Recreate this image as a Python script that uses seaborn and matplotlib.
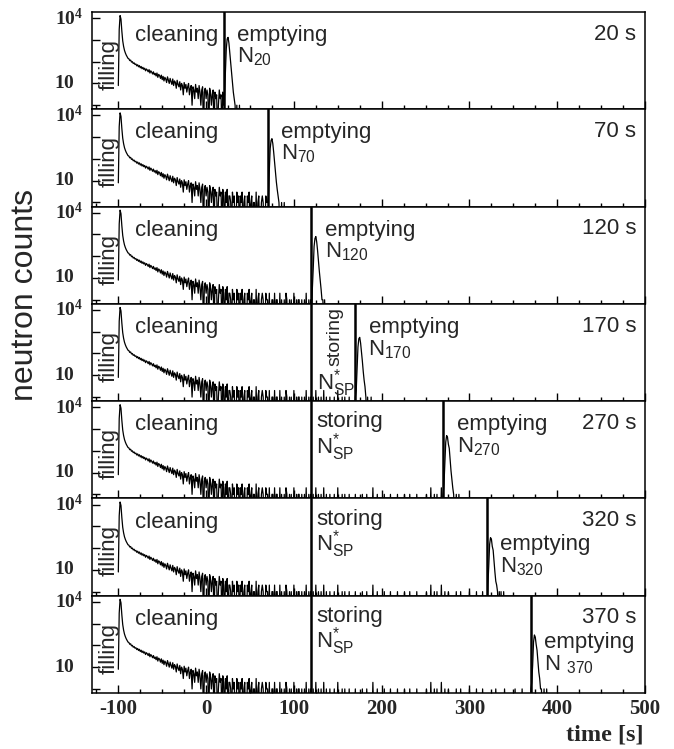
import numpy as np
import pandas as pd
import matplotlib
matplotlib.use("Agg")
import matplotlib.pyplot as plt
import matplotlib.transforms as mtransforms
from matplotlib.ticker import MultipleLocator, NullLocator
import seaborn as sns

# ---------------- data ----------------
storage_times = [20, 70, 120, 170, 270, 320, 370]
panel_labels = ["20 s", "70 s", "120 s", "170 s", "270 s", "320 s", "370 s"]
cleaning_end = 120          # end of cleaning in the long-storage runs
t_start = -100
t_stop = 500

# counts in 1 s bins, t = -100 ... 119  (filling peak + cleaning decay)
cleaning_counts = [
    8, 3000, 13000, 9000, 2500, 900, 500, 330, 250, 200,
    170, 142, 135, 112, 118, 95, 100, 82, 88, 74,
    78, 64, 72, 58, 66, 52, 60, 47, 55, 44,
    50, 38, 46, 41, 34, 43, 30, 38, 33, 27,
    34, 25, 29, 22, 30, 19, 26, 23, 17, 24,
    15, 21, 13, 19, 16, 11, 20, 14, 10, 17,
    12, 9, 16, 8, 13, 11, 6, 14, 9, 7,
    12, 5, 10, 8, 3, 11, 6, 9, 4, 7,
    10, 3, 6, 8, 1, 7, 5, 2, 9, 4,
    6, 2, 8, 4, 1, 5, 7, 0, 4, 6,
    2, 5, 3, 0, 6, 4, 1, 3, 5, 0,
    4, 2, 3, 0, 1, 5, 2, 3, 0, 4,
    2, 0, 3, 1, 4, 0, 2, 2, 1, 0,
    3, 1, 2, 0, 0, 3, 1, 2, 0, 2,
    1, 3, 0, 1, 2, 0, 0, 2, 1, 3,
    0, 1, 2, 0, 1, 1, 0, 3, 0, 1,
    2, 0, 0, 1, 2, 1, 0, 0, 2, 1,
    1, 0, 2, 0, 0, 1, 1, 0, 2, 0,
    1, 1, 0, 0, 2, 0, 1, 0, 0, 1,
    0, 2, 1, 0, 0, 1, 0, 1, 0, 0,
    2, 0, 0, 1, 0, 1, 1, 0, 0, 1,
    0, 0, 1, 0, 2, 0, 0, 1, 0, 1,
]

# sparse background counts while storing (t >= 120)
storing_hit_times = [122, 125, 128, 131, 134, 137, 141, 146, 150, 155, 158, 163,
                     170, 178, 183, 190, 195, 203, 210, 218, 226, 232, 240, 251,
                     256, 260, 263, 268, 272, 276, 285, 290, 300, 308, 315, 330,
                     340, 352, 360]
storing_hit_counts = [1, 2, 1, 1, 2, 1, 1, 1, 2, 1, 1, 1,
                      1, 1, 1, 2, 1, 1, 1, 1, 1, 1, 1, 1,
                      2, 1, 1, 2, 1, 1, 1, 1, 1, 1, 1, 1,
                      1, 1, 1]

# emptying peaks, 1 s bins starting at the emptying time
emptying_20 = [1, 3, 40, 400, 1100, 1300, 700, 250, 90, 30, 10, 4, 2, 1, 0, 1, 0, 0, 1, 0]
emptying_70 = [1, 2, 30, 300, 700, 850, 500, 200, 70, 25, 9, 4, 2, 1, 0, 0, 1, 0, 0, 1]
emptying_120 = [0, 3, 25, 280, 650, 800, 450, 180, 60, 20, 8, 3, 1, 1, 0, 1, 0, 0, 0, 0]
emptying_170 = [1, 2, 20, 200, 480, 550, 300, 120, 45, 15, 6, 3, 1, 0, 1, 0, 0, 0, 1, 0]
emptying_270 = [1, 3, 30, 250, 500, 420, 200, 130, 40, 12, 5, 2, 1, 0, 0, 1, 0, 0, 1, 0]
emptying_320 = [0, 2, 15, 150, 300, 260, 120, 80, 25, 8, 3, 2, 1, 0, 1, 0, 1, 0, 0, 1]
emptying_370 = [1, 2, 12, 140, 300, 240, 110, 60, 20, 6, 3, 1, 1, 0, 0, 1, 0, 0, 1, 0]
emptying_counts = [emptying_20, emptying_70, emptying_120, emptying_170,
                   emptying_270, emptying_320, emptying_370]

# ---------------- style ----------------
sns.set_theme(style="ticks")
plt.rcParams["font.family"] = ["Liberation Sans", "DejaVu Sans"]
plt.rcParams["mathtext.fontset"] = "custom"
plt.rcParams["mathtext.rm"] = "Liberation Sans"
plt.rcParams["mathtext.it"] = "Liberation Sans:italic"
plt.rcParams["mathtext.bf"] = "Liberation Serif:bold"
plt.rcParams["axes.linewidth"] = 1.1
plt.rcParams["axes.edgecolor"] = "black"

W, H = 674, 749
fig, axes = plt.subplots(7, 1, sharex=True, figsize=(W / 100, H / 100), dpi=100)
fig.subplots_adjust(left=92 / W, right=645 / W, top=1 - 12 / H, bottom=1 - 693 / H, hspace=0)

FS = 16
serif = dict(family="Liberation Serif", weight="bold")
NSP = r"$\mathrm{N^{*}_{SP}}$"


def build_series(te, empty):
    t = np.arange(t_start, t_stop + 1)
    c = np.zeros(len(t))
    n_clean = min(te, cleaning_end) - t_start
    c[:n_clean] = cleaning_counts[:n_clean]
    for ht, hn in zip(storing_hit_times, storing_hit_counts):
        if cleaning_end <= ht < te:
            c[ht - t_start] = hn
    i0 = te - t_start
    c[i0:i0 + len(empty)] = empty
    return pd.DataFrame({"time": t, "counts": c})


for k, (ax, te, lab, empty) in enumerate(zip(axes, storage_times, panel_labels, emptying_counts)):
    df = build_series(te, empty)
    # empty bins drawn below the axis as in the log histogram
    df["shown"] = df["counts"].where(df["counts"] > 0, 0.05)
    sns.lineplot(data=df, x="time", y="shown", ax=ax, estimator=None,
                 color="black", lw=0.9)
    ax.set_yscale("log")
    ax.set_ylim(0.65, 19000)
    ax.set_xlim(-130, 500)
    ax.set_xlabel("")
    ax.set_ylabel("")

    ax.axvline(te, color="black", lw=1.8)
    if te > cleaning_end:
        ax.axvline(cleaning_end, color="black", lw=1.8)

    ax.set_yticks([1, 10, 100, 1000, 10000])
    ax.set_yticklabels([])
    ax.yaxis.set_minor_locator(NullLocator())
    ax.set_xticks(range(-100, 501, 100))
    ax.xaxis.set_minor_locator(MultipleLocator(25))
    ax.tick_params(axis="y", which="major", direction="in", length=5.8, width=1,
                   left=True, right=False, color="black")
    ax.tick_params(axis="x", which="major", direction="in", length=5.8, width=1,
                   bottom=True, top=False, color="black")
    ax.tick_params(axis="x", which="minor", direction="in", length=2.6, width=1,
                   bottom=True, top=False, color="black")
    for sp in ax.spines.values():
        sp.set_visible(True)
        sp.set_linewidth(1.1)
        sp.set_color("black")

    ytr = ax.get_yaxis_transform()
    ax.text(-0.0157, 10000, r"$\mathbf{10^{4}}$", transform=ytr, ha="right",
            va="center", fontsize=14)
    ax.text(-0.0307, 10, r"$\mathbf{10}$", transform=ytr, ha="right",
            va="center", fontsize=14)

    tr = mtransforms.blended_transform_factory(ax.transData, ax.transAxes)
    ax.text(-111, 0.46, "filling", rotation=90, transform=tr, ha="center",
            va="center", fontsize=FS)
    ax.text(-81, 0.70, "cleaning", transform=tr, ha="left", va="baseline", fontsize=FS)
    ax.text(490, 0.715, lab, transform=tr, ha="right", va="baseline", fontsize=FS)

    nlab = r"$\mathrm{N_{%d}}$" % te
    if te <= cleaning_end:
        ax.text(te + 15, 0.70, "emptying", transform=tr, va="baseline", fontsize=FS)
        ax.text(te + 15, 0.48, nlab, transform=tr, va="baseline", fontsize=FS)
    elif te < 200:
        ax.text(147, 0.665, "storing", rotation=90, transform=tr, ha="center",
                va="center", fontsize=14)
        ax.text(126.5, 0.12, NSP, transform=tr, va="baseline", fontsize=FS)
        ax.text(te + 15, 0.70, "emptying", transform=tr, va="baseline", fontsize=FS)
        ax.text(te + 15, 0.47, nlab, transform=tr, va="baseline", fontsize=FS)
    else:
        ax.text(125.5, 0.73, "storing", transform=tr, va="baseline", fontsize=FS)
        ax.text(125.5, 0.465, NSP, transform=tr, va="baseline", fontsize=FS)
        if te < 300:
            ax.text(te + 16, 0.70, "emptying", transform=tr, va="baseline", fontsize=FS)
            ax.text(te + 16, 0.47, nlab, transform=tr, va="baseline", fontsize=FS)
        else:
            ax.text(te + 15, 0.465, "emptying", transform=tr, va="baseline", fontsize=FS)
            if k == len(storage_times) - 1:
                nlab = r"$\mathrm{N}\ {}_{\mathrm{%d}}$" % te
            ax.text(te + 15, 0.235, nlab, transform=tr, va="baseline", fontsize=FS)

axes[-1].set_xticklabels([str(v) for v in range(-100, 501, 100)], fontsize=15, **serif)
axes[-1].tick_params(axis="x", which="major", pad=4)

fig.text(643 / W, 1 - 740 / H, "time [s]", ha="right", va="baseline",
         fontsize=17.5, **serif)
fig.text(25 / W, 1 - 295 / H, "neutron counts", rotation=90, ha="center",
         va="center", fontsize=23)

fig.savefig("out.png", dpi=100)
